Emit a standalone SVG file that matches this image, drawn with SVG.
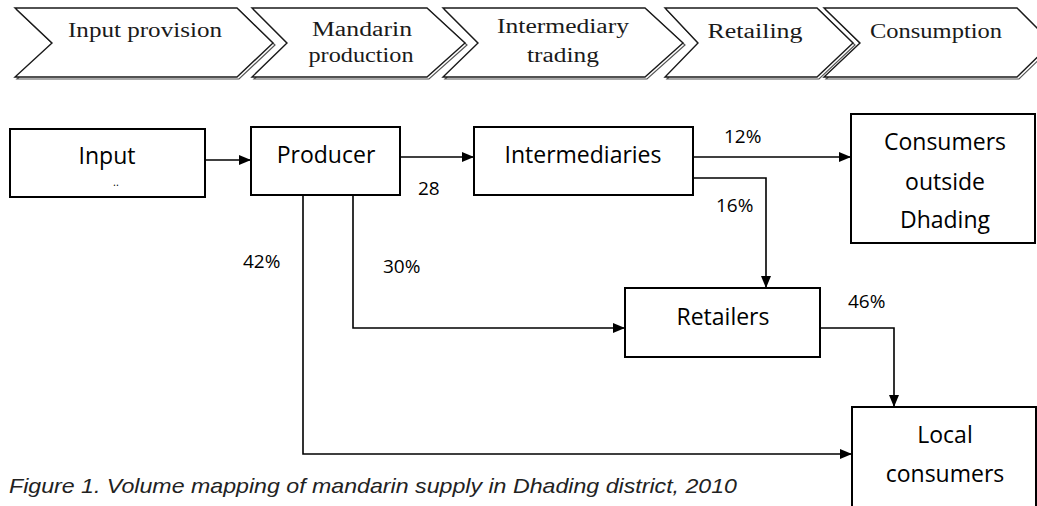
<svg xmlns="http://www.w3.org/2000/svg" width="1037" height="506" viewBox="0 0 1037 506">
<defs>
<style>
.chev{fill:#fff;stroke:#1a1a1a;stroke-width:1.4;stroke-linejoin:miter}
.chevsh{fill:none;stroke:#555;stroke-width:1.2}
.ct{font-family:"Liberation Serif",serif;font-size:20px;fill:#1a1a1a;text-anchor:middle}
.box{fill:#fff;stroke:#000;stroke-width:2}
.bt{font-family:"Open Sans",sans-serif;font-size:23px;fill:#000;text-anchor:middle}
.lbl{font-family:"Open Sans",sans-serif;font-size:19px;fill:#000}
.conn{fill:none;stroke:#000;stroke-width:1.6}
.cap{font-family:"Liberation Sans",sans-serif;font-style:italic;font-size:21px;fill:#222}
</style>
<marker id="ah" viewBox="0 0 12 10" refX="12" refY="5" markerWidth="12" markerHeight="10" markerUnits="userSpaceOnUse" orient="auto">
<path d="M0,0 L12,5 L0,10 Z" fill="#000"/>
</marker>
</defs>

<g id="stages">
<g id="stage-input">
<path class="chevsh" d="M17,10 L239,10 L275,45 L239,79 L17,79 L54,45 Z"/>
<path class="chev" d="M15,8 L237,8 L273,43 L237,77 L15,77 L52,43 Z"/>
<text class="ct" x="145" y="37" textLength="154" lengthAdjust="spacingAndGlyphs">Input provision</text>
</g>
<g id="stage-production">
<path class="chevsh" d="M254,10 L429,10 L467,45 L429,79 L254,79 L289,45 Z"/>
<path class="chev" d="M252,8 L427,8 L465,43 L427,77 L252,77 L287,43 Z"/>
<text class="ct" x="362" y="36" textLength="100" lengthAdjust="spacingAndGlyphs">Mandarin</text>
<text class="ct" x="361" y="62" textLength="105" lengthAdjust="spacingAndGlyphs">production</text>
</g>
<g id="stage-trading">
<path class="chevsh" d="M445,10 L647,10 L685,45 L647,79 L445,79 L480,45 Z"/>
<path class="chev" d="M443,8 L645,8 L683,43 L645,77 L443,77 L478,43 Z"/>
<text class="ct" x="563" y="33" textLength="132" lengthAdjust="spacingAndGlyphs">Intermediary</text>
<text class="ct" x="563" y="62" textLength="72" lengthAdjust="spacingAndGlyphs">trading</text>
</g>
<g id="stage-retailing">
<path class="chevsh" d="M667,10 L819,10 L855,45 L819,79 L667,79 L700,45 Z"/>
<path class="chev" d="M665,8 L817,8 L853,43 L817,77 L665,77 L698,43 Z"/>
<text class="ct" x="755" y="38" textLength="95" lengthAdjust="spacingAndGlyphs">Retailing</text>
</g>
<g id="stage-consumption">
<path class="chevsh" d="M826,10 L1019,10 L1054,45 L1019,79 L826,79 L862,45 Z"/>
<path class="chev" d="M824,8 L1017,8 L1052,43 L1017,77 L824,77 L860,43 Z"/>
<text class="ct" x="936" y="38" textLength="132" lengthAdjust="spacingAndGlyphs">Consumption</text>
</g>
</g>

<g id="connectors">
<path class="conn" d="M205,160 H251" marker-end="url(#ah)"/>
<path class="conn" d="M400,157 H474" marker-end="url(#ah)"/>
<path class="conn" d="M693,157 H851" marker-end="url(#ah)"/>
<path class="conn" d="M693,178 H766 V288" marker-end="url(#ah)"/>
<path class="conn" d="M353,195 V328 H625" marker-end="url(#ah)"/>
<path class="conn" d="M303,195 V454 H852" marker-end="url(#ah)"/>
<path class="conn" d="M820,328 H894 V407" marker-end="url(#ah)"/>
<text class="lbl" x="418" y="195">28</text>
<text class="lbl" x="724" y="143">12%</text>
<text class="lbl" x="716" y="212">16%</text>
<text class="lbl" x="243" y="268">42%</text>
<text class="lbl" x="383" y="273">30%</text>
<text class="lbl" x="848" y="308">46%</text>
</g>

<g id="node-input">
<rect class="box" x="10" y="129" width="195" height="68"/>
<text class="bt" x="107" y="164">Input</text>
<text class="lbl" x="113" y="186" style="font-size:11px">..</text>
</g>
<g id="node-producer">
<rect class="box" x="251" y="127" width="149" height="68"/>
<text class="bt" x="326" y="163">Producer</text>
</g>
<g id="node-intermediaries">
<rect class="box" x="474" y="127" width="219" height="68"/>
<text class="bt" x="583" y="163">Intermediaries</text>
</g>
<g id="node-consumers-outside">
<rect class="box" x="851" y="114" width="184" height="129"/>
<text class="bt" x="945" y="150">Consumers</text>
<text class="bt" x="945" y="190">outside</text>
<text class="bt" x="945" y="228">Dhading</text>
</g>
<g id="node-retailers">
<rect class="box" x="625" y="288" width="195" height="69"/>
<text class="bt" x="723" y="325">Retailers</text>
</g>
<g id="node-local">
<rect class="box" x="852" y="407" width="184" height="110"/>
<text class="bt" x="945" y="443">Local</text>
<text class="bt" x="945" y="482">consumers</text>
</g>

<text class="cap" x="9" y="493" textLength="728" lengthAdjust="spacingAndGlyphs">Figure 1. Volume mapping of mandarin supply in Dhading district, 2010</text>
</svg>
